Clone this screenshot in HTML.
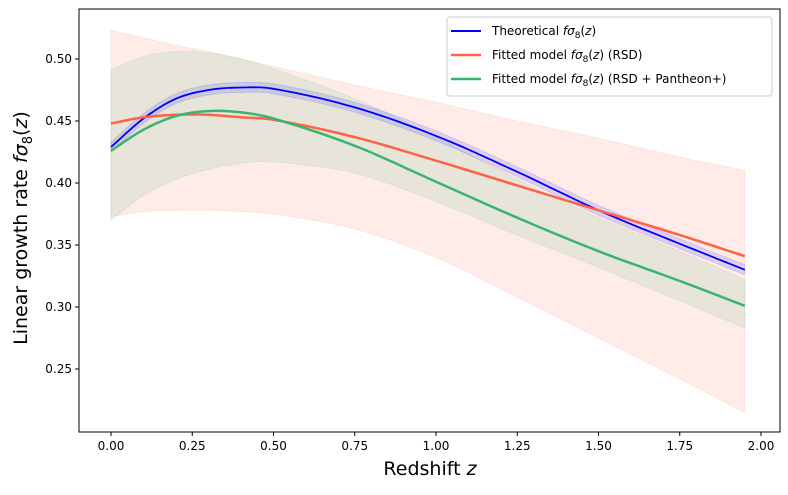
<!DOCTYPE html>
<html><head><meta charset="utf-8"><style>
body{margin:0;background:#fff}
svg{font-family:"DejaVu Sans","Liberation Sans",sans-serif}
</style></head><body>
<svg id="c" width="788" height="490" viewBox="0 0 788 490">
<rect x="79" y="9" width="701" height="423" fill="#fff" stroke="none"/>
<g id="bands"></g><g id="lines"></g><g id="axes"></g>
<rect x="79" y="9" width="701" height="423" fill="none" stroke="#000" stroke-width="1"/>
<text x="430" y="475" font-size="19" text-anchor="middle">Redshift <tspan font-style="italic">z</tspan></text>
<text transform="translate(27,228) rotate(-90)" font-size="19" text-anchor="middle">Linear growth rate <tspan font-style="italic">fσ</tspan><tspan font-size="13" dy="5">8</tspan><tspan dy="-5">(</tspan><tspan font-style="italic">z</tspan>)</text>
<g>
<rect x="447" y="17" width="325" height="79" rx="3" fill="#fff" fill-opacity="0.8" stroke="#ccc"/>
<line x1="451" y1="31" x2="481" y2="31" stroke="#0000ff" stroke-width="2"/>
<text x="492" y="35" font-size="12">Theoretical <tspan font-style="italic">fσ</tspan><tspan font-size="9" dy="3">8</tspan><tspan dy="-3">(</tspan><tspan font-style="italic">z</tspan>)</text>
<line x1="451" y1="55" x2="481" y2="55" stroke="#ff6347" stroke-width="2.5"/>
<text x="492" y="59" font-size="12">Fitted model <tspan font-style="italic">fσ</tspan><tspan font-size="9" dy="3">8</tspan><tspan dy="-3">(</tspan><tspan font-style="italic">z</tspan>) (RSD)</text>
<line x1="451" y1="79" x2="481" y2="79" stroke="#3cb371" stroke-width="2.5"/>
<text x="492" y="83" font-size="12">Fitted model <tspan font-style="italic">fσ</tspan><tspan font-size="9" dy="3">8</tspan><tspan dy="-3">(</tspan><tspan font-style="italic">z</tspan>) (RSD + Pantheon+)</text>
</g>
</svg>
<script>
const zs=[0,0.1,0.2,0.3,0.4,0.5,0.75,1.0,1.25,1.5,1.75,1.95];
const theory=[0.429,0.452,0.468,0.475,0.477,0.476,0.461,0.438,0.409,0.378,0.351,0.330];
const rsd=[0.448,0.453,0.455,0.455,0.453,0.451,0.437,0.418,0.398,0.378,0.358,0.341];
const rsdUpper=[0.523,0.517,0.511,0.506,0.500,0.494,0.479,0.465,0.450,0.436,0.421,0.410];
const rsdLower=[0.373,0.377,0.378,0.378,0.377,0.375,0.363,0.340,0.308,0.275,0.242,0.215];
const pan=[0.426,0.443,0.454,0.458,0.457,0.452,0.430,0.401,0.372,0.345,0.321,0.301];
const panUpper=[0.491,0.502,0.506,0.505,0.500,0.492,0.468,0.437,0.403,0.372,0.345,0.322];
const panLower=[0.370,0.390,0.403,0.411,0.416,0.417,0.408,0.385,0.358,0.332,0.305,0.283];
const theoryErr=0.004;
const xTicks=[0,0.25,0.5,0.75,1.0,1.25,1.5,1.75,2.0];
const yTicks=[0.25,0.30,0.35,0.40,0.45,0.50];
const X=z=>111+z*325, Y=v=>59+(0.5-v)*1240;
const NS='http://www.w3.org/2000/svg';
function interp(vals){
  const pts=[];
  for(let i=0;i<zs.length-1;i++){
    const p0=i>0?i-1:i,p3=i+2<zs.length?i+2:i+1;
    const h=zs[i+1]-zs[i];
    const m1=(vals[i+1]-vals[p0])/(zs[i+1]-zs[p0]);
    const m2=(vals[p3]-vals[i])/(zs[p3]-zs[i]);
    for(let k=0;k<10;k++){
      const t=k/10,t2=t*t,t3=t2*t;
      const v=(2*t3-3*t2+1)*vals[i]+(t3-2*t2+t)*h*m1+(-2*t3+3*t2)*vals[i+1]+(t3-t2)*h*m2;
      pts.push([zs[i]+t*h,v]);
    }
  }
  pts.push([zs[zs.length-1],vals[vals.length-1]]);
  return pts;
}
const path=p=>p.map((q,i)=>(i?'L':'M')+X(q[0]).toFixed(1)+' '+Y(q[1]).toFixed(1)).join(' ');
function band(up,lo,color,op,name){
  const a=interp(up),b=interp(lo).reverse();
  const el=document.createElementNS(NS,'path');
  el.setAttribute('d',path(a)+' '+path(b).replace('M','L')+' Z');
  el.setAttribute('fill',color);el.setAttribute('fill-opacity',op);
  el.setAttribute('stroke',color);el.setAttribute('stroke-opacity',op);
  
  
  document.getElementById('bands').appendChild(el);
}
function line(vals,color,w,name){
  const el=document.createElementNS(NS,'path');
  el.setAttribute('d',path(interp(vals)));
  el.setAttribute('fill','none');el.setAttribute('stroke',color);el.setAttribute('stroke-width',w);
  
  
  document.getElementById('lines').appendChild(el);
}
band(rsdUpper,rsdLower,'#ff6347',0.12,'rsd-confidence-band');
band(panUpper,panLower,'#3cb371',0.12,'pantheon-confidence-band');
band(theory.map(v=>v+theoryErr),theory.map(v=>v-theoryErr),'#0000ff',0.12,'theory-confidence-band');
line(theory,'#0000ff',1.8,'theoretical-line');
line(rsd,'#ff6347',2.5,'rsd-fit-line');
line(pan,'#3cb371',2.5,'rsd-pantheon-fit-line');
const ax=document.getElementById('axes');
xTicks.forEach(t=>{
  const l=document.createElementNS(NS,'line');
  l.setAttribute('x1',X(t));l.setAttribute('x2',X(t));l.setAttribute('y1',432);l.setAttribute('y2',436);l.setAttribute('stroke','#000');
  
  
  ax.appendChild(l);
  const tx=document.createElementNS(NS,'text');
  tx.setAttribute('x',X(t));tx.setAttribute('y',450);tx.setAttribute('font-size','12');tx.setAttribute('text-anchor','middle');
  tx.textContent=t.toFixed(2);
  
  
  ax.appendChild(tx);
});
yTicks.forEach(t=>{
  const l=document.createElementNS(NS,'line');
  l.setAttribute('x1',75);l.setAttribute('x2',79);l.setAttribute('y1',Y(t));l.setAttribute('y2',Y(t));l.setAttribute('stroke','#000');
  
  
  ax.appendChild(l);
  const tx=document.createElementNS(NS,'text');
  tx.setAttribute('x',72);tx.setAttribute('y',Y(t)+4);tx.setAttribute('font-size','12');tx.setAttribute('text-anchor','end');
  tx.textContent=t.toFixed(2);
  
  
  ax.appendChild(tx);
});
</script>
</body></html>
